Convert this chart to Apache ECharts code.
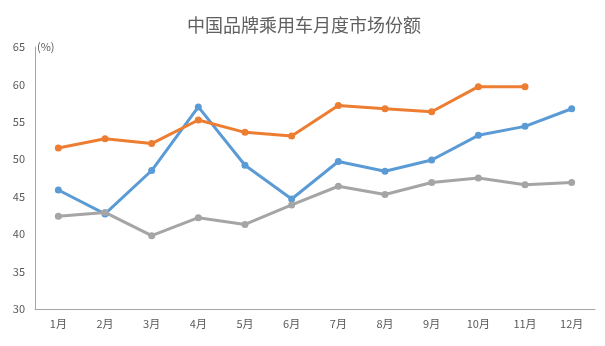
<!DOCTYPE html>
<html>
<head>
<meta charset="utf-8">
<script src="https://cdn.jsdelivr.net/npm/echarts@6/dist/echarts.min.js"></script>
<style>
  html, body { margin: 0; padding: 0; background: #fff; }
  #chart { width: 605px; height: 346px; }
</style>
</head>
<body>
<div id="chart"></div>
<script>
// Monthly market share of Chinese-brand passenger cars (%)
const months = ['1月', '2月', '3月', '4月', '5月', '6月', '7月', '8月', '9月', '10月', '11月', '12月'];
const seriesBlue = [45.9, 42.7, 48.5, 57.0, 49.2, 44.7, 49.7, 48.4, 49.9, 53.2, 54.4, 56.75];
const seriesOrange = [51.5, 52.75, 52.1, 55.25, 53.6, 53.1, 57.2, 56.75, 56.35, 59.7, 59.7, null];
const seriesGray = [42.4, 42.9, 39.8, 42.2, 41.3, 43.9, 46.4, 45.3, 46.9, 47.5, 46.6, 46.9];

const titleText = '中国品牌乘用车月度市场份额';
const unitText = '(%)';

const textColor = '#595959';
const fontFamily = '"Noto Sans CJK SC", "Noto Sans", sans-serif';

function lineSeries(data, color) {
  return {
    type: 'line',
    data: data,
    symbol: 'circle',
    symbolSize: 7,
    lineStyle: { width: 3, color: color },
    itemStyle: { color: color },
    connectNulls: false,
    animation: false
  };
}

const chart = echarts.init(document.getElementById('chart'));
chart.setOption({
  backgroundColor: '#ffffff',
  animation: false,
  title: {
    text: titleText,
    left: 187,
    top: 16,
    padding: 0,
    textStyle: { color: '#606060', fontSize: 18, fontWeight: 'normal', fontFamily: fontFamily }
  },
  grid: { left: 35, right: 10, top: 47, bottom: 37 },
  xAxis: {
    type: 'category',
    data: months,
    boundaryGap: true,
    axisLine: { lineStyle: { color: '#a6a6a6', width: 1 } },
    axisTick: { show: false },
    axisLabel: { color: textColor, fontSize: 11, margin: 9, fontFamily: fontFamily }
  },
  yAxis: {
    type: 'value',
    min: 30,
    max: 65,
    interval: 5,
    name: unitText,
    nameLocation: 'end',
    nameGap: 0,
    nameTextStyle: { color: textColor, fontSize: 11, align: 'left', verticalAlign: 'middle', padding: [0, 0, 6, 2], fontFamily: fontFamily },
    axisLine: { show: true, lineStyle: { color: '#a6a6a6', width: 1 } },
    axisTick: { show: false },
    splitLine: { show: false },
    axisLabel: { color: textColor, fontSize: 11, margin: 10, fontFamily: fontFamily }
  },
  series: [
    lineSeries(seriesBlue, '#5B9BD5'),
    lineSeries(seriesOrange, '#ED7D31'),
    lineSeries(seriesGray, '#A5A5A5')
  ]
});
</script>
</body>
</html>
